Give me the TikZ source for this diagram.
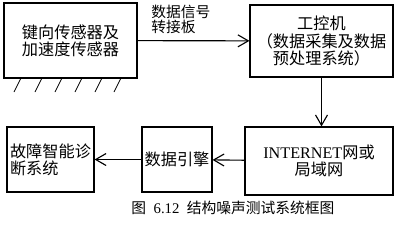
\documentclass[tikz,border=0pt]{standalone}
\usepackage{fontspec}
\setmainfont{Liberation Serif}
\newfontfamily\cjk{Noto Sans CJK SC}
\usetikzlibrary{arrows.meta}
\tikzset{
  blockbox/.style={draw, line width=0.8pt, inner sep=1pt, font=\cjk\fontsize{11.5}{12.2}\selectfont},
  flowline/.style={line width=0.8pt, -{Straight Barb[length=2.6mm,width=3mm]}}
}
\begin{document}
\begin{tikzpicture}[x=0.025cm, y=-0.025cm]
			\useasboundingbox (0,0) rectangle (400,225);
			\node[blockbox, minimum width=3.325cm, minimum height=1.875cm, align=center] (sensor) at (70.5,40.5) {键向传感器及\\加速度传感器};
			\node[blockbox, minimum width=3.575cm, minimum height=1.8cm, align=center] (ipc) at (321.5,41) {工控机\\（数据采集及数据\\预处理系统）};
			\node[blockbox, minimum width=3.7cm, minimum height=1.7cm, align=center] (net) at (319,161) {{\rmfamily INTERNET}网或\\局域网};
			\node[blockbox, minimum width=1.75cm, minimum height=1.625cm] (engine) at (177,159.5) {数据引擎};
			\node[blockbox, minimum width=2.175cm, minimum height=1.625cm, align=left] (diag) at (50.5,159.5) {故障智能诊\\断系统};
			\node[anchor=north west, align=left, inner sep=0pt, font=\cjk\fontsize{10.5}{10.8}\selectfont] (adapter) at (151,5) {数据信号\\转接板};
			% hatching under the sensor box
			\foreach \x in {21,42,62,82,102,121}
				\draw[line width=0.6pt] (\x-7,92) -- (\x,78);
			\draw[flowline] (sensor) -- (ipc);
			\draw[flowline] (ipc) -- (ipc |- net.north);
			\draw[flowline] (net) -- (engine);
			\draw[flowline] (engine) -- (diag);
			\node[font=\cjk\fontsize{10.5}{12}\selectfont] (caption) at (233,208) {图\enspace{\rmfamily 6.12}\enspace 结构噪声测试系统框图};
		\end{tikzpicture}
\end{document}
